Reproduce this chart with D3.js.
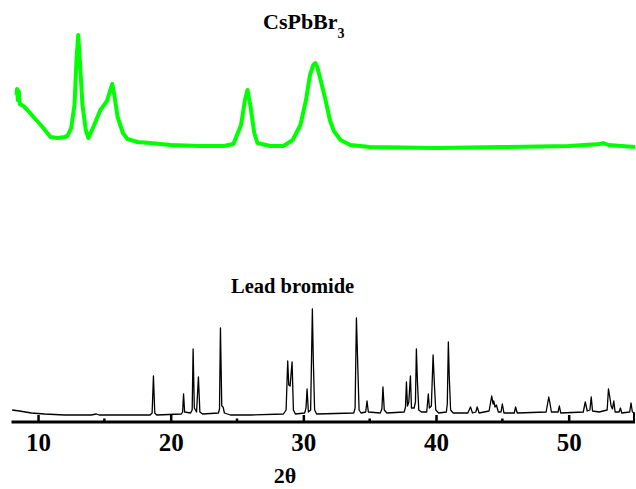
<!DOCTYPE html>
<html>
<head>
<meta charset="utf-8">
<script src="https://cdn.jsdelivr.net/npm/d3@7/dist/d3.min.js"></script>
<style>
  html, body { margin: 0; padding: 0; background: #fff; }
  svg { display: block; }
  text { font-family: "Liberation Serif", "Times New Roman", serif; font-weight: bold; fill: #000; }
</style>
</head>
<body>
<svg id="chart" width="636" height="489"></svg>
<script>
// ---- data (2θ in degrees, intensity in arbitrary stacked units) ----
const xTicksMajor = [10, 20, 30, 40, 50];
const xTicksMinor = [15, 25, 35, 45];
const seriesNames = ["CsPbBr3", "Lead bromide"];

const cspbbr3 = [
  [8.38,327],[8.42,333],[8.48,322],[8.55,331],[8.62,318],[8.9,316],[9.2,312],[9.66,305],[10.0,300],
  [10.4,294],[10.94,285],[11.5,284],[12.0,285],[12.22,286],[12.5,294],[12.75,317],[12.9,362],
  [13.03,387],[13.15,362],[13.35,317],[13.6,292],[13.8,284],[14.2,296],[14.7,312],[15.2,321],
  [15.45,332],[15.59,338],[15.75,327],[16.0,305],[16.4,289],[16.74,283],[17.5,280],[18.47,279],
  [20.0,277],[22.24,276],[24.0,276],[24.73,278],[25.3,297],[25.6,322],[25.79,332],[26.0,317],
  [26.3,289],[26.54,279],[27.5,276],[28.5,276],[29.2,282],[29.78,297],[30.2,322],[30.5,347],
  [30.75,357],[30.91,359],[31.05,355],[31.3,342],[31.67,322],[32.0,302],[32.3,291],[32.8,282],
  [33.55,277],[35.0,275],[40.0,274],[45.0,275],[50.0,276],[52.4,278],[52.6,279],[53.0,277],[55.0,275]
];

const leadBromide = [
  [8.05,12],[8.6,11],[9.5,9],[10.5,8],[12,7],[14,7],[14.4,8],[14.6,7],[16,7],[18.45,7],
  [18.6,9],[18.7,46],[18.8,9],[18.95,7],
  [20.8,8],[20.9,10],[20.97,28],[21.05,10],[21.5,9],[21.62,12],[21.69,73],[21.78,14],[21.95,10],
  [22.09,45],[22.2,10],[22.4,8],
  [23.6,9],[23.68,13],[23.75,94],[23.85,16],[23.95,15],[24.05,9],[24.5,7],[26,7],
  [28.5,8],[28.7,12],[28.82,61],[28.9,37],[29.0,36],[29.15,60],[29.25,12],[29.4,8],
  [30.1,9],[30.2,14],[30.28,33],[30.38,10],[30.55,12],[30.68,113],[30.75,62],[30.85,12],[31.0,8],
  [33.8,9],[33.9,14],[34.0,104],[34.1,57],[34.2,12],[34.35,9],[34.7,10],[34.8,21],[34.9,10],
  [35.8,9],[35.92,13],[36.0,35],[36.1,12],[36.3,9],
  [37.6,10],[37.7,15],[37.77,40],[37.85,16],[37.95,20],[38.07,46],[38.15,14],[38.35,14],[38.45,20],
  [38.52,73],[38.6,40],[38.7,12],[38.9,10],
  [39.3,10],[39.42,28],[39.5,14],[39.65,16],[39.78,67],[39.88,37],[39.98,12],[40.2,9],
  [40.78,10],[40.85,18],[40.93,80],[41.0,45],[41.1,12],[41.3,9],
  [42.4,9],[42.6,15],[42.75,9],[43.0,10],[43.1,15],[43.25,9],[44.0,11],[44.2,26],[44.3,18],
  [44.35,21],[44.45,15],[44.55,17],[44.7,10],[44.9,10],[45.0,18],[45.12,9],[45.9,9],[46.0,15],
  [46.12,9],[48.3,10],[48.5,25],[48.6,18],[48.7,10],[49.2,10],[49.3,16],[49.4,9],[51.1,10],
  [51.25,20],[51.4,11],[51.6,12],[51.7,25],[51.8,11],[52.3,10],[52.9,12],[53.0,33],[53.1,25],
  [53.2,16],[53.3,13],[53.4,21],[53.5,10],[53.8,10],[53.9,14],[54.0,9],[54.6,10],[54.7,19],
  [54.8,10],[55.0,9]
];

// ---- chart ----
const svg = d3.select("#chart");
const axisY = 422;
const x = d3.scaleLinear().domain([8, 55]).range([11.5, 635]);
const y = d3.scaleLinear().domain([0, 400]).range([axisY, axisY - 400]);

const line = d3.line().x(d => x(d[0])).y(d => y(d[1]));

svg.append("path")
  .datum(cspbbr3)
  .attr("fill", "none")
  .attr("stroke", "#00ff00")
  .attr("stroke-width", 4)
  .attr("stroke-linejoin", "round")
  .attr("d", line);

svg.append("path")
  .datum(leadBromide)
  .attr("fill", "none")
  .attr("stroke", "#000")
  .attr("stroke-width", 1.3)
  .attr("stroke-linejoin", "round")
  .attr("d", line);

// x axis
const gAxis = svg.append("g").attr("transform", `translate(0,${axisY})`);
const axis = d3.axisBottom(x)
  .tickValues(xTicksMajor)
  .tickSize(-7)
  .tickPadding(0)
  .tickFormat(d3.format("d"));
gAxis.call(axis);
gAxis.select(".domain").remove();
gAxis.selectAll(".tick line").attr("stroke", "#000").attr("stroke-width", 2.5);
gAxis.selectAll(".tick text")
  .attr("y", 29)
  .attr("dy", null)
  .style("font-family", "'Liberation Serif', 'Times New Roman', serif")
  .style("font-weight", "bold")
  .style("font-size", "25px");

gAxis.selectAll(".minor")
  .data(xTicksMinor)
  .join("line")
  .attr("x1", d => x(d)).attr("x2", d => x(d))
  .attr("y1", 0).attr("y2", -3.5)
  .attr("stroke", "#000").attr("stroke-width", 2.5);

gAxis.append("line")
  .attr("x1", x.range()[0]).attr("x2", x.range()[1])
  .attr("y1", 0).attr("y2", 0)
  .attr("stroke", "#000").attr("stroke-width", 3);

gAxis.append("line")
  .attr("x1", x.range()[1] - 1).attr("x2", x.range()[1] - 1)
  .attr("y1", 0).attr("y2", -9)
  .attr("stroke", "#000").attr("stroke-width", 2);

// labels
const t1 = svg.append("text").attr("x", 263).attr("y", 29).style("font-size", "22px");
t1.append("tspan").text("CsPbBr");
t1.append("tspan").attr("dy", 9).style("font-size", "14px").text("3");

svg.append("text").attr("x", 231).attr("y", 293).style("font-size", "20.5px").text(seriesNames[1]);

svg.append("text").attr("x", 285).attr("y", 483).attr("text-anchor", "middle")
  .style("font-size", "22px").text("2θ");
</script>
</body>
</html>
